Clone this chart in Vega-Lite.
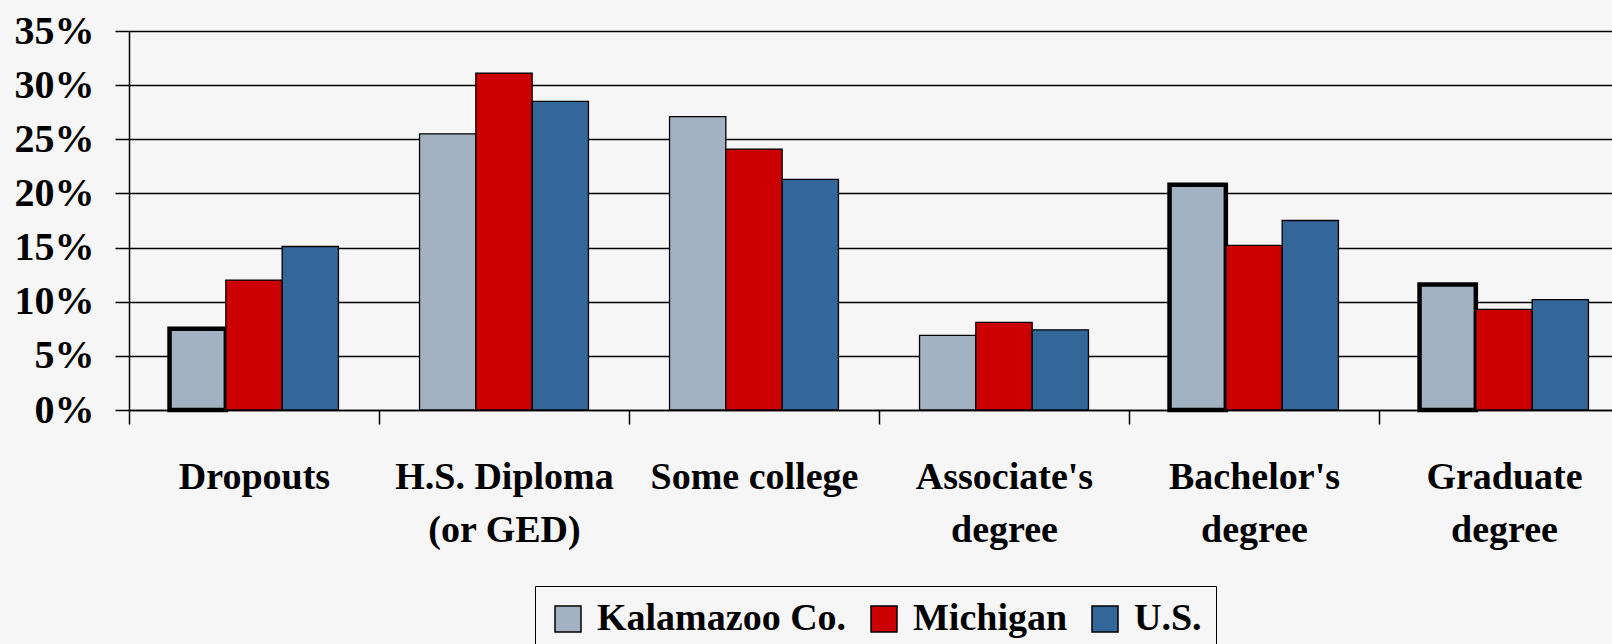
{
  "$schema": "https://vega.github.io/schema/vega-lite/v6.json",
  "width": 1483,
  "height": 379,
  "autosize": {"type": "none"},
  "padding": {"left": 129, "top": 31, "right": 0, "bottom": 234},
  "background": "#f6f6f6",
  "config": {
    "view": {"stroke": null},
    "font": "'Liberation Serif', 'Times New Roman', serif"
  },
  "data": {
    "values": [
      {"category": "Dropouts", "region": "Kalamazoo Co.", "value": 7.5},
      {"category": "Dropouts", "region": "Michigan", "value": 12.0},
      {"category": "Dropouts", "region": "U.S.", "value": 15.1},
      {"category": "H.S. Diploma (or GED)", "region": "Kalamazoo Co.", "value": 25.5},
      {"category": "H.S. Diploma (or GED)", "region": "Michigan", "value": 31.1},
      {"category": "H.S. Diploma (or GED)", "region": "U.S.", "value": 28.5},
      {"category": "Some college", "region": "Kalamazoo Co.", "value": 27.1},
      {"category": "Some college", "region": "Michigan", "value": 24.1},
      {"category": "Some college", "region": "U.S.", "value": 21.3},
      {"category": "Associate's degree", "region": "Kalamazoo Co.", "value": 6.9},
      {"category": "Associate's degree", "region": "Michigan", "value": 8.1},
      {"category": "Associate's degree", "region": "U.S.", "value": 7.4},
      {"category": "Bachelor's degree", "region": "Kalamazoo Co.", "value": 20.8},
      {"category": "Bachelor's degree", "region": "Michigan", "value": 15.2},
      {"category": "Bachelor's degree", "region": "U.S.", "value": 17.5},
      {"category": "Graduate degree", "region": "Kalamazoo Co.", "value": 11.6},
      {"category": "Graduate degree", "region": "Michigan", "value": 9.3},
      {"category": "Graduate degree", "region": "U.S.", "value": 10.2}
    ]
  },
  "mark": {"type": "bar", "stroke": "black"},
  "encoding": {
    "x": {
      "field": "category",
      "type": "nominal",
      "sort": null,
      "scale": {"range": [0, 1500], "paddingInner": 0, "paddingOuter": 0},
      "axis": {
        "title": null,
        "labelAngle": 0,
        "labelFont": "'Liberation Serif', 'Times New Roman', serif",
        "labelFontWeight": "bold",
        "labelFontSize": 38,
        "labelColor": "black",
        "labelLineHeight": 53,
        "labelPadding": 34,
        "labelExpr": "datum.label == 'H.S. Diploma (or GED)' ? ['H.S. Diploma', '(or GED)'] : (datum.label == 'Some college' || datum.label == 'Dropouts') ? datum.label : split(datum.label, ' ')",
        "tickBand": "extent",
        "tickSize": 14,
        "tickWidth": 1.5,
        "tickColor": "black",
        "domainColor": "black",
        "domainWidth": 1.5,
        "labelLimit": 400
      }
    },
    "xOffset": {
      "field": "region",
      "type": "nominal",
      "sort": ["Kalamazoo Co.", "Michigan", "U.S."],
      "scale": {"paddingInner": 0, "paddingOuter": 0.72}
    },
    "y": {
      "field": "value",
      "type": "quantitative",
      "scale": {"domain": [0, 35]},
      "axis": {
        "title": null,
        "values": [0, 5, 10, 15, 20, 25, 30, 35],
        "labelExpr": "datum.value + '%'",
        "labelFont": "'Liberation Serif', 'Times New Roman', serif",
        "labelFontWeight": "bold",
        "labelFontSize": 40,
        "labelColor": "black",
        "labelPadding": 21,
        "tickSize": 14,
        "tickWidth": 1.5,
        "tickColor": "black",
        "grid": true,
        "gridColor": "black",
        "gridWidth": 1.5,
        "domainColor": "black",
        "domainWidth": 1.5
      }
    },
    "color": {
      "field": "region",
      "type": "nominal",
      "sort": ["Kalamazoo Co.", "Michigan", "U.S."],
      "scale": {"domain": ["Kalamazoo Co.", "Michigan", "U.S."], "range": ["#A3B2C2", "#CC0000", "#336699"]},
      "legend": {
        "title": null,
        "orient": "none",
        "legendX": 406,
        "legendY": 555,
        "direction": "horizontal",
        "labelFont": "'Liberation Serif', 'Times New Roman', serif",
        "labelFontWeight": "bold",
        "labelFontSize": 38,
        "labelColor": "black",
        "labelOffset": 10,
        "labelLimit": 400,
        "symbolType": "square",
        "symbolSize": 676,
        "symbolStrokeColor": "black",
        "symbolStrokeWidth": 1.5,
        "symbolOpacity": 1,
        "columnPadding": 18,
        "strokeColor": "black",
        "padding": 14
      }
    },
    "strokeWidth": {
      "condition": {
        "test": "datum.region == 'Kalamazoo Co.' && (datum.category == 'Dropouts' || datum.category == \"Bachelor's degree\" || datum.category == 'Graduate degree')",
        "value": 4.5
      },
      "value": 1.3
    }
  }
}
